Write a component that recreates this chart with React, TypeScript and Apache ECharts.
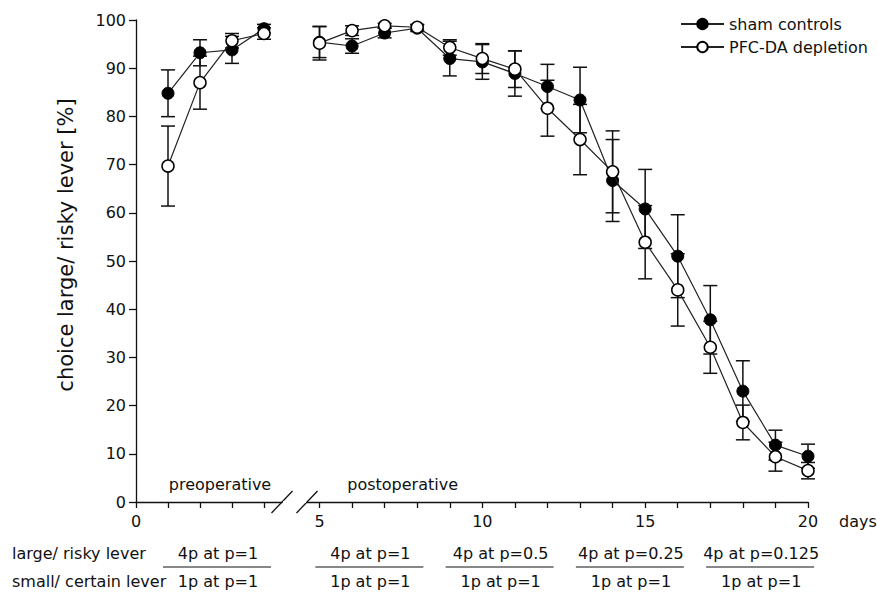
import React, { useEffect, useRef } from "react";
import * as echarts from "echarts";

const days = [1, 2, 3, 4, 5, 6, 7, 8, 9, 10, 11, 12, 13, 14, 15, 16, 17, 18, 19, 20];
const shamMean = [84.8, 93.2, 93.8, 98.2, 95.4, 94.6, 97.3, 98.3, 92.0, 91.3, 88.9, 86.2, 83.4, 66.7, 60.8, 51.0, 37.8, 23.0, 11.8, 9.5];
const shamErr = [4.85, 2.7, 2.8, 0.9, 3.2, 1.5, 1.0, 0.7, 3.6, 3.6, 4.7, 4.6, 6.8, 8.5, 8.2, 8.6, 7.1, 6.3, 3.1, 2.5];
const pfcMean = [69.7, 87.0, 95.7, 97.2, 95.2, 97.8, 98.8, 98.5, 94.3, 92.0, 89.8, 81.7, 75.2, 68.5, 53.9, 44.0, 32.1, 16.5, 9.4, 6.5];
const pfcErr = [8.3, 5.5, 1.5, 1.2, 3.5, 1.0, 0.5, 0.6, 1.6, 3.1, 3.8, 5.8, 7.3, 8.5, 7.6, 7.5, 5.4, 3.6, 3.0, 1.7];
const yTicks = [0, 10, 20, 30, 40, 50, 60, 70, 80, 90, 100];
const preTicks = [0, 1, 2, 3, 4];
const preLabels = [0];
const postTicks = [5, 6, 7, 8, 9, 10, 11, 12, 13, 14, 15, 16, 17, 18, 19, 20];
const postLabels = [5, 10, 15, 20];
const largeLever = ["4p at p=1", "4p at p=1", "4p at p=0.5", "4p at p=0.25", "4p at p=0.125"];
const smallLever = ["1p at p=1", "1p at p=1", "1p at p=1", "1p at p=1", "1p at p=1"];
const blockStart = [1, 5, 9, 13, 17];
const blockEnd = [4, 8, 12, 16, 20];

const FONT = "DejaVu Sans";
const INK = "#111";

function errorBarSeries(name: string, gridIdx: number, data: number[][]) {
  return {
    type: "custom",
    name,
    xAxisIndex: gridIdx,
    yAxisIndex: gridIdx,
    z: 1,
    clip: false,
    encode: { x: 0, y: 1 },
    data,
    renderItem: (params: any, api: any) => {
      const x = api.value(0);
      const y = api.value(1);
      const e = api.value(2);
      const top = api.coord([x, y + e]);
      const bot = api.coord([x, y - e]);
      const hw = 7;
      const style = { stroke: INK, lineWidth: 1.5 };
      return {
        type: "group",
        children: [
          { type: "line", shape: { x1: top[0], y1: top[1], x2: bot[0], y2: bot[1] }, style },
          { type: "line", shape: { x1: top[0] - hw, y1: top[1], x2: top[0] + hw, y2: top[1] }, style },
          { type: "line", shape: { x1: bot[0] - hw, y1: bot[1], x2: bot[0] + hw, y2: bot[1] }, style },
        ],
      };
    },
  };
}

export default function App() {
  const ref = useRef<HTMLDivElement>(null);
  useEffect(() => {
    if (!ref.current) return;
    const chart = echarts.init(ref.current, undefined, { renderer: "svg" });

    const pre = (arr: number[], err?: number[]) =>
      days.map((d, i) => (err ? [d, arr[i], err[i]] : [d, arr[i]])).filter((p) => p[0] <= 4);
    const post = (arr: number[], err?: number[]) =>
      days.map((d, i) => (err ? [d, arr[i], err[i]] : [d, arr[i]])).filter((p) => p[0] >= 5);

    const shamStyle = {
      symbol: "circle",
      symbolSize: 12,
      itemStyle: { color: "#000", borderColor: "#000", borderWidth: 1 },
      lineStyle: { color: "#222", width: 1.2 },
      z: 3,
    };
    const pfcStyle = {
      symbol: "circle",
      symbolSize: 12,
      itemStyle: { color: "#fff", borderColor: "#000", borderWidth: 1.5 },
      lineStyle: { color: "#222", width: 1.2 },
      z: 4,
    };

    const axisLine = { show: true, lineStyle: { color: INK, width: 1.3 } };
    const labelStyle = { color: INK, fontSize: 16, fontFamily: FONT };

    const option: any = {
      animation: false,
      backgroundColor: "#fff",
      textStyle: { fontFamily: FONT },
      grid: [
        { left: 136, top: 20, width: 146, height: 482 },
        { left: 307, top: 20, width: 501, height: 482 },
      ],
      xAxis: [
        {
          type: "value",
          gridIndex: 0,
          min: 0,
          max: 4.5625,
          axisLine,
          splitLine: { show: false },
          axisTick: { show: true, inside: false, length: 6, customValues: preTicks, lineStyle: { color: INK, width: 1.3 } },
          axisLabel: { ...labelStyle, margin: 11, customValues: preLabels },
        },
        {
          type: "value",
          gridIndex: 1,
          min: 4.616,
          max: 20,
          axisLine,
          splitLine: { show: false },
          axisTick: { show: true, inside: false, length: 6, customValues: postTicks, lineStyle: { color: INK, width: 1.3 } },
          axisLabel: { ...labelStyle, margin: 11, customValues: postLabels },
        },
      ],
      yAxis: [
        {
          type: "value",
          gridIndex: 0,
          min: 0,
          max: 100,
          interval: 10,
          axisLine,
          splitLine: { show: false },
          axisTick: { show: true, inside: false, length: 7, customValues: yTicks, lineStyle: { color: INK, width: 1.3 } },
          axisLabel: { ...labelStyle, margin: 10, customValues: yTicks },
        },
        {
          type: "value",
          gridIndex: 1,
          min: 0,
          max: 100,
          interval: 10,
          show: false,
          splitLine: { show: false },
        },
      ],
      legend: {
        orient: "vertical",
        left: 675,
        top: 11,
        itemWidth: 43,
        itemHeight: 13,
        itemGap: 7,
        textStyle: { color: INK, fontSize: 16, fontFamily: FONT },
        data: ["sham controls", "PFC-DA depletion"],
      },
      series: [
        errorBarSeries("sham SEM", 0, pre(shamMean, shamErr)),
        errorBarSeries("PFC SEM", 0, pre(pfcMean, pfcErr)),
        errorBarSeries("sham SEM", 1, post(shamMean, shamErr)),
        errorBarSeries("PFC SEM", 1, post(pfcMean, pfcErr)),
        { type: "line", name: "sham controls", xAxisIndex: 0, yAxisIndex: 0, data: pre(shamMean), ...shamStyle },
        { type: "line", name: "PFC-DA depletion", xAxisIndex: 0, yAxisIndex: 0, data: pre(pfcMean), ...pfcStyle },
        { type: "line", name: "sham controls", xAxisIndex: 1, yAxisIndex: 1, data: post(shamMean), ...shamStyle },
        { type: "line", name: "PFC-DA depletion", xAxisIndex: 1, yAxisIndex: 1, data: post(pfcMean), ...pfcStyle },
      ],
    };
    chart.setOption(option);

    // annotations positioned through the axes
    const px = (grid: number, x: number, y: number) => chart.convertToPixel({ gridIndex: grid }, [x, y]) as number[];
    const g: any[] = [];
    const zero0 = px(0, 0, 0);
    const axisY = zero0[1];
    const leftEnd = px(0, 4.5625, 0);
    const rightStart = px(1, 4.616, 0);
    const slashStyle = { stroke: INK, lineWidth: 1.3 };
    g.push({ type: "line", shape: { x1: leftEnd[0] - 10.5, y1: axisY + 11, x2: leftEnd[0] + 10.5, y2: axisY - 11 }, style: slashStyle });
    g.push({ type: "line", shape: { x1: rightStart[0] - 10.5, y1: axisY + 11, x2: rightStart[0] + 10.5, y2: axisY - 11 }, style: slashStyle });
    g.push({ type: "rect", shape: { x: leftEnd[0] + 1, y: axisY - 1, width: rightStart[0] - leftEnd[0] - 2, height: 2 }, style: { fill: "#fff" } });

    const textStyle = (extra: any) => ({ fill: INK, fontSize: 16, fontFamily: FONT, ...extra });
    const preMid = (px(0, 1, 0)[0] + px(0, 4, 0)[0]) / 2;
    g.push({ type: "text", x: preMid + 4, y: axisY - 18, style: textStyle({ text: "preoperative", align: "center", verticalAlign: "middle" }) });
    const postMid = px(1, 7, 0)[0];
    g.push({ type: "text", x: postMid + 18, y: axisY - 18, style: textStyle({ text: "postoperative", align: "center", verticalAlign: "middle" }) });

    const right20 = px(1, 20, 0);
    g.push({ type: "text", x: right20[0] + 31, y: axisY + 19, style: textStyle({ text: "days", align: "left", verticalAlign: "middle" }) });

    // y axis title
    g.push({
      type: "text",
      x: 66,
      y: 245,
      rotation: Math.PI / 2,
      style: textStyle({ text: "choice large/ risky lever [%]", fontSize: 21, align: "center", verticalAlign: "middle" }),
    });

    const row1 = 553;
    const row2 = 581;
    const lineY = 567;
    g.push({ type: "text", x: 12, y: row1, style: textStyle({ text: "large/ risky lever", align: "left", verticalAlign: "middle" }) });
    g.push({ type: "text", x: 12, y: row2, style: textStyle({ text: "small/ certain lever", align: "left", verticalAlign: "middle" }) });
    for (let i = 0; i < blockStart.length; i++) {
      const gi = blockStart[i] <= 4 ? 0 : 1;
      const c = (px(gi, blockStart[i], 0)[0] + px(gi, blockEnd[i], 0)[0]) / 2;
      g.push({ type: "text", x: c + 2, y: row1, style: textStyle({ text: largeLever[i], align: "center", verticalAlign: "middle" }) });
      g.push({ type: "text", x: c + 2, y: row2, style: textStyle({ text: smallLever[i], align: "center", verticalAlign: "middle" }) });
      g.push({ type: "line", shape: { x1: c - 53, y1: lineY, x2: c + 55, y2: lineY }, style: { stroke: INK, lineWidth: 1.2 } });
    }
    chart.setOption({ graphic: g });

    return () => chart.dispose();
  }, []);
  return <div ref={ref} style={{ position: "fixed", left: 0, top: 0, width: 877, height: 600 }} />;
}
